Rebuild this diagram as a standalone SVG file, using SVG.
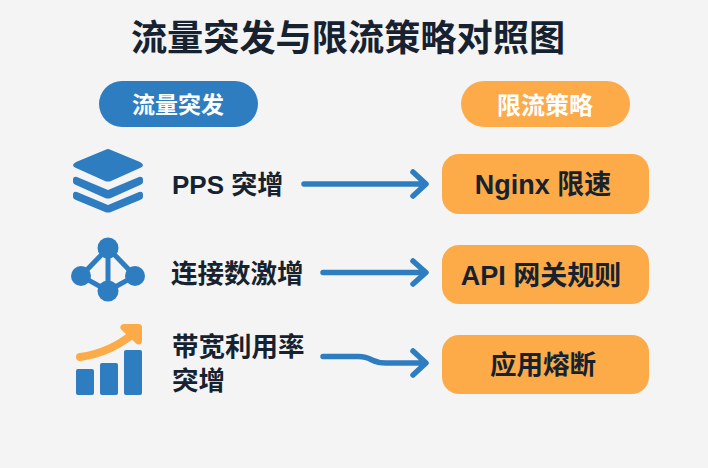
<svg xmlns="http://www.w3.org/2000/svg" width="708" height="468" viewBox="0 0 708 468">
<style>
text{font-family:"Liberation Sans","Noto Sans CJK SC",sans-serif;font-weight:700;text-anchor:middle}
.t{fill:#16222f}
.w{fill:#fff}
.l{fill:#16222f;font-size:26.500px;text-anchor:start}
.o{fill:#16222f;font-size:27px}
.box{fill:#fdaa48}
.blue{fill:#2f7dc1}
.c{fill:none;stroke:#2f7dc1;stroke-width:5.500;stroke-linecap:round;stroke-linejoin:round}
</style>
<rect width="708" height="468" fill="#f4f4f4"/>
<text id="title" class="t" x="348" y="51" font-size="36.200">流量突发与限流策略对照图</text>
<g id="head-left"><rect class="blue" x="99" y="81" width="159" height="46" rx="23"/><text class="w" x="178" y="113" font-size="23">流量突发</text></g>
<g id="head-right"><rect class="box" x="461" y="81" width="169" height="46" rx="23"/><text class="w" x="545" y="114" font-size="24">限流策略</text></g>
<g id="icon-layers">
<path class="blue" d="M108 149Q107 149 105 150L76 162Q73 164 73 165Q73 167 76 168L105 181Q108 182 111 181L140 168Q143 167 143 165Q143 164 140 162L111 150Q109 149 108 149Z"/>
<path class="blue" d="M77 177L108 190L139 177Q143 176 143 180V182Q143 184 140 185L111 198Q108 199 105 198L76 185Q73 184 73 182V180Q73 176 77 177Z"/>
<path class="blue" d="M77 192L108 205L139 192Q143 191 143 195V197Q143 199 140 200L111 212Q108 213 105 212L76 200Q73 199 73 197V195Q73 191 77 192Z"/>
</g>
<g id="icon-graph">
<path d="M108 248L81 276L108 291L135 276ZM108 248V291" fill="none" stroke="#2f7dc1" stroke-width="5"/>
<circle class="blue" cx="108" cy="248" r="10.500"/><circle class="blue" cx="81" cy="276" r="10"/><circle class="blue" cx="135" cy="276" r="10"/><circle class="blue" cx="108" cy="291" r="10.500"/>
</g>
<g id="icon-bars">
<rect class="blue" x="76" y="369" width="18" height="26" rx="2"/><rect class="blue" x="100" y="363" width="18" height="32" rx="2"/><rect class="blue" x="124" y="350" width="18" height="45" rx="2"/>
<path d="M80 357Q110 353 134 333" fill="none" stroke="#fdaa48" stroke-width="8" stroke-linecap="round"/>
<path d="M124 327.500H138.500V341Z" fill="#fdaa48" stroke="#fdaa48" stroke-width="7" stroke-linejoin="round"/>
</g>
<g id="source-1"><text class="l" x="172" y="194" style="font-size:26px">PPS 突增</text></g>
<g id="source-2"><text class="l" x="171" y="283">连接数激增</text></g>
<g id="source-3"><text class="l" x="172" y="356">带宽利用率</text><text class="l" x="172" y="390">突增</text></g>
<g id="connectors">
<path class="c" d="M304 184H425M413 172L426 184L413 196"/>
<path class="c" d="M323 272.500H425M413 261L426 272.500L413 284"/>
<path class="c" d="M323 356.500H358Q366 356.500 372 360Q378 363 386 363H425M413 351L426 363L413 375"/>
</g>
<g id="target-1"><rect class="box" x="442" y="154" width="207" height="60" rx="17"/><text class="o" x="543" y="194">Nginx 限速</text></g>
<g id="target-2"><rect class="box" x="442" y="245" width="207" height="59" rx="17"/><text class="o" x="541" y="285">API 网关规则</text></g>
<g id="target-3"><rect class="box" x="442" y="335" width="207" height="59" rx="17"/><text class="o" x="543" y="374" style="font-size:26.500px">应用熔断</text></g>
</svg>
